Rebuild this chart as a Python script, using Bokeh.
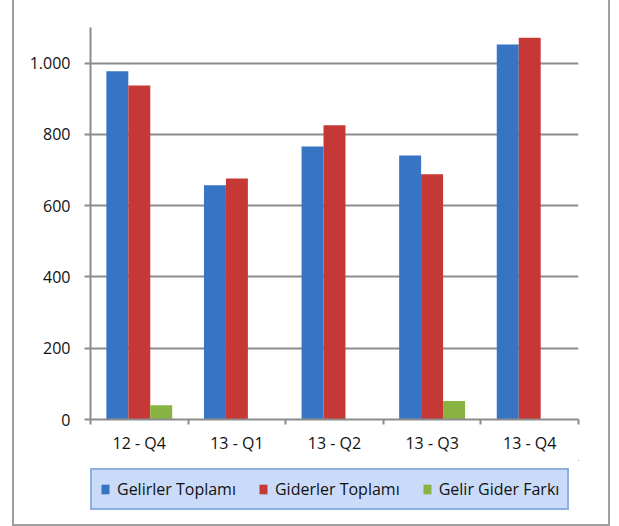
from bokeh.plotting import figure
from bokeh.layouts import column
from bokeh.models import (Range1d, LinearAxis, FixedTicker, Legend, LegendItem,
                          ColumnDataSource, Grid)
from bokeh.transform import dodge
from bokeh.embed import file_html
from bokeh.resources import INLINE

categories = ["12 - Q4", "13 - Q1", "13 - Q2", "13 - Q3", "13 - Q4"]
gelirler = [977, 657, 766, 741, 1052]
giderler = [937, 676, 826, 688, 1071]
fark = [40, -8, -7, 52, -8]
series_names = ["Gelirler Toplamı", "Giderler Toplamı", "Gelir Gider Farkı"]
y_ticks = [0, 200, 400, 600, 800, 1000]
y_tick_labels = ["0", "200", "400", "600", "800", "1.000"]

FONT = "Open Sans"
GRAY = "#8c8c8c"
colors = ["#3775c4", "#c63835", "#88b343"]

n = len(categories)
centers = [i + 0.5 for i in range(n)]   # category slot centres
src = ColumnDataSource(dict(xc=centers, cat=categories, gel=gelirler, gid=giderler, fark=fark))

# ---------------- main chart ----------------
p = figure(width=619, height=460,
           x_range=Range1d(0, n), y_range=Range1d(0, 1100),
           output_backend="svg", toolbar_location=None,
           x_axis_location=None, y_axis_location=None,
           min_border_left=90, min_border_right=41, min_border_top=27, min_border_bottom=41)
p.outline_line_color = None
p.background_fill_color = "white"
p.border_fill_color = "white"

for g in p.select(type=Grid):
    if g.dimension == 0:
        g.visible = False
    else:
        g.ticker = FixedTicker(ticks=y_ticks[1:])
        g.grid_line_color = GRAY
        g.grid_line_width = 2
        g.grid_line_alpha = 1.0

w = 0.225
fields = ["gel", "gid", "fark"]
offsets = [-w, 0, w]
for f, off, c in zip(fields, offsets, colors):
    p.vbar(x=dodge("xc", off), top=f, width=w, source=src, fill_color=c, line_color=None)

yaxis = LinearAxis(ticker=FixedTicker(ticks=y_ticks, minor_ticks=[]),
                   major_label_overrides={t: l for t, l in zip(y_ticks, y_tick_labels)})
yaxis.axis_line_color = GRAY
yaxis.axis_line_width = 2
yaxis.major_tick_line_color = GRAY
yaxis.major_tick_line_width = 2
yaxis.major_tick_in = 0
yaxis.major_tick_out = 6
yaxis.major_label_standoff = 14
yaxis.major_label_text_font = FONT
yaxis.major_label_text_font_size = "16px"
yaxis.major_label_text_color = "#111111"
p.add_layout(yaxis, "left")

xaxis = LinearAxis(ticker=FixedTicker(ticks=centers, minor_ticks=list(range(n + 1))),
                   major_label_overrides={c: lab for c, lab in zip(centers, categories)})
xaxis.axis_line_color = GRAY
xaxis.axis_line_width = 2
xaxis.major_tick_line_color = None
xaxis.major_tick_in = 0
xaxis.major_tick_out = 0
xaxis.minor_tick_line_color = GRAY
xaxis.minor_tick_line_width = 2
xaxis.minor_tick_in = 0
xaxis.minor_tick_out = 5
xaxis.major_label_standoff = 7
xaxis.major_label_text_font = FONT
xaxis.major_label_text_font_size = "16px"
xaxis.major_label_text_color = "#111111"
p.add_layout(xaxis, "below")

# ---------------- legend strip ----------------
p2 = figure(width=619, height=66,
            x_range=Range1d(-100, -99), y_range=Range1d(-100, -99),
            output_backend="svg", toolbar_location=None,
            x_axis_location=None, y_axis_location=None,
            min_border_left=90, min_border_right=41, min_border_top=0, min_border_bottom=0)
p2.outline_line_color = None
p2.background_fill_color = "white"
p2.border_fill_color = "white"
for g in p2.select(type=Grid):
    g.visible = False

legend_renderers = [p2.vbar(x=dodge("xc", off), top=f, width=w, source=src,
                            fill_color=c, line_color=None)
                    for f, off, c in zip(fields, offsets, colors)]

legend = Legend(items=[LegendItem(label=name, renderers=[r])
                       for name, r in zip(series_names, legend_renderers)],
                orientation="horizontal", location=(0, 16),
                padding=8, margin=0, spacing=22, label_standoff=7,
                glyph_width=10, glyph_height=12,
                border_line_color="#5584c4", border_line_width=2,
                background_fill_color="#c9dbf8", background_fill_alpha=1.0,
                label_text_font=FONT, label_text_font_size="16px", label_text_color="#111111")
p2.add_layout(legend)

layout = column(p, p2)
# outer chart border (drawn as an overlay around the whole chart)
layout.stylesheets = [""":host::after {
  content: ""; position: absolute; left: 12px; top: -5px; width: 598px; height: 531px;
  border: 2px solid #a0a0a0; box-sizing: border-box; pointer-events: none;
}"""]

open("out.html", "w").write(file_html(layout, INLINE))
